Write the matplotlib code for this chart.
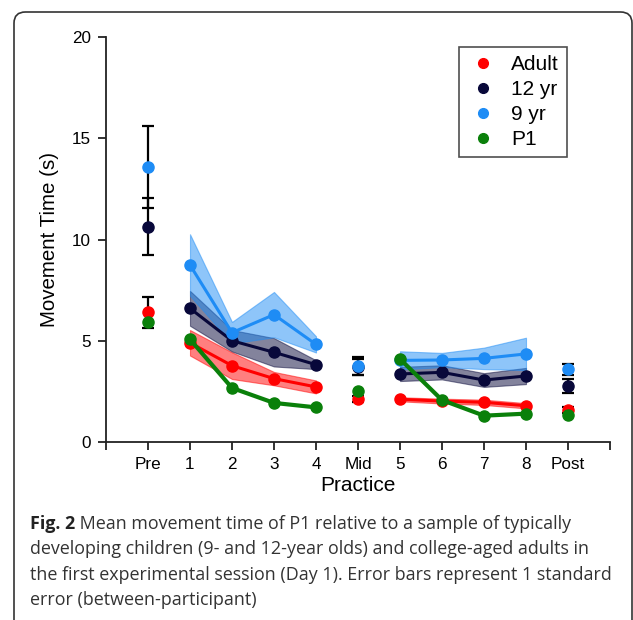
import matplotlib
matplotlib.use("Agg")
import matplotlib.pyplot as plt
from matplotlib.lines import Line2D
from matplotlib.patches import FancyBboxPatch
import numpy as np

plt.rcParams['font.family'] = ['Liberation Sans', 'DejaVu Sans']

# ---------------- data ----------------
categories = ['Pre', '1', '2', '3', '4', 'Mid', '5', '6', '7', '8', 'Post']
groups = ['Adult', '12 yr', '9 yr', 'P1']

adult_mean = [6.40, 4.90, 3.77, 3.13, 2.72, 2.11, 2.11, 2.02, 1.96, 1.79, 1.58]
adult_se   = [0.78, 0.63, 0.66, 0.33, 0.32, 0.15, 0.10, 0.12, 0.13, 0.13, 0.15]
yr12_mean  = [10.63, 6.60, 5.00, 4.43, 3.82, 3.70, 3.36, 3.44, 3.06, 3.26, 2.77]
yr12_se    = [1.42, 0.86, 0.53, 0.70, 0.22, 0.38, 0.35, 0.35, 0.34, 0.40, 0.36]
yr9_mean   = [13.60, 8.74, 5.40, 6.29, 4.82, 3.75, 4.03, 4.05, 4.13, 4.35, 3.59]
yr9_se     = [2.02, 1.52, 0.53, 1.12, 0.40, 0.45, 0.45, 0.35, 0.53, 0.80, 0.26]
p1_mean    = [5.93, 5.07, 2.67, 1.93, 1.71, 2.53, 4.10, 2.07, 1.30, 1.40, 1.33]

colors = {'Adult': '#ff0000', '12 yr': '#08083a', '9 yr': '#1e8cf5', 'P1': '#0a800a'}

yticks = [0, 5, 10, 15, 20]
caption_bold = "Fig. 2"
caption_lines = [
    " Mean movement time of P1 relative to a sample of typically",
    "developing children (9- and 12-year olds) and college-aged adults in",
    "the first experimental session (Day 1). Error bars represent 1 standard",
    "error (between-participant)",
]

# ---------------- figure ----------------
W, H = 633, 620
fig = plt.figure(figsize=(W / 100, H / 100), dpi=100)
ax = fig.add_axes([106 / W, 1 - 442 / H, 504 / W, 405 / H])

xpos = np.arange(1, len(categories) + 1)
test_idx = [0, 5, 10]
blocks = [[1, 2, 3, 4], [6, 7, 8, 9]]

series = [
    ('Adult', adult_mean, adult_se, 3),
    ('12 yr', yr12_mean, yr12_se, 4),
    ('9 yr', yr9_mean, yr9_se, 5),
    ('P1', p1_mean, None, 7),
]

for name, mean, se, z in series:
    c = colors[name]
    m = np.array(mean)
    for blk in blocks:
        bx = xpos[blk]
        bm = m[blk]
        if se is not None:
            s = np.array(se)[blk]
            ax.fill_between(bx, bm - s, bm + s, facecolor=c, alpha=0.5,
                            edgecolor=c, linewidth=0.8, zorder=z - 2)
        lw = 3.0 if name == 'P1' else 2.2
        ax.plot(bx, bm, '-o', color=c, lw=lw, ms=8, zorder=z)
    tx = xpos[test_idx]
    tm = m[test_idx]
    if se is not None:
        ts = np.array(se)[test_idx]
        ax.errorbar(tx, tm, yerr=ts, fmt='none', ecolor='black', elinewidth=1.6,
                    capsize=4.5, capthick=1.6, zorder=2)
    ax.plot(tx, tm, 'o', color=c, ms=8, zorder=z + 1)

ax.set_xlim(0, 12)
ax.set_ylim(0, 20)
ax.set_xticks(np.arange(0, 13))
ax.set_xticklabels([''] + categories + [''])
ax.set_yticks(yticks)
ax.set_yticklabels([str(v) for v in yticks])
for sp in ['top', 'right']:
    ax.spines[sp].set_visible(False)
for sp in ['left', 'bottom']:
    ax.spines[sp].set_linewidth(1.3)
    ax.spines[sp].set_color('#222222')
ax.tick_params(axis='both', direction='out', length=6, width=1.3, labelsize=12.3,
               color='#222222', pad=5)
ax.set_ylabel('Movement Time (s)', fontsize=14.8, labelpad=9)
ax.set_xlabel('Practice', fontsize=15, labelpad=3)

handles = [Line2D([], [], ls='none', marker='o', color=colors[g], ms=7) for g in groups]
leg = ax.legend(handles, groups, loc='upper left', bbox_to_anchor=(0.700, 0.975),
                borderaxespad=0, fontsize=15, frameon=True, fancybox=False,
                edgecolor='#222222', handletextpad=0.6, labelspacing=0.28,
                borderpad=0.4, handlelength=1.5)
leg.get_frame().set_linewidth(1.2)

# ---------------- caption ----------------
cap_font = ['Open Sans', 'DejaVu Sans']
cap_size = 12.9
y0 = 1 - 529 / H
dy = 25.3 / H
t1 = fig.text(30 / W, y0, caption_bold, fontsize=cap_size, family=cap_font,
              weight='bold', color='#222222', va='baseline')
ax.annotate(caption_lines[0], xy=(1, 0), xycoords=t1, va='bottom', ha='left',
            fontsize=cap_size, family=cap_font, color='#333333', annotation_clip=False)
for i, line in enumerate(caption_lines[1:], start=1):
    fig.text(30 / W, y0 - i * dy, line, fontsize=cap_size, family=cap_font,
             color='#333333', va='baseline')

# ---------------- frame ----------------
frame = FancyBboxPatch((14 / W, -0.05), (632 - 14) / W, 1 - 12 / H + 0.05,
                       boxstyle='round,pad=0,rounding_size=0.018',
                       transform=fig.transFigure, fill=False,
                       edgecolor='#333333', linewidth=1.2, clip_on=False)
fig.add_artist(frame)

fig.savefig('out.png', dpi=100)
